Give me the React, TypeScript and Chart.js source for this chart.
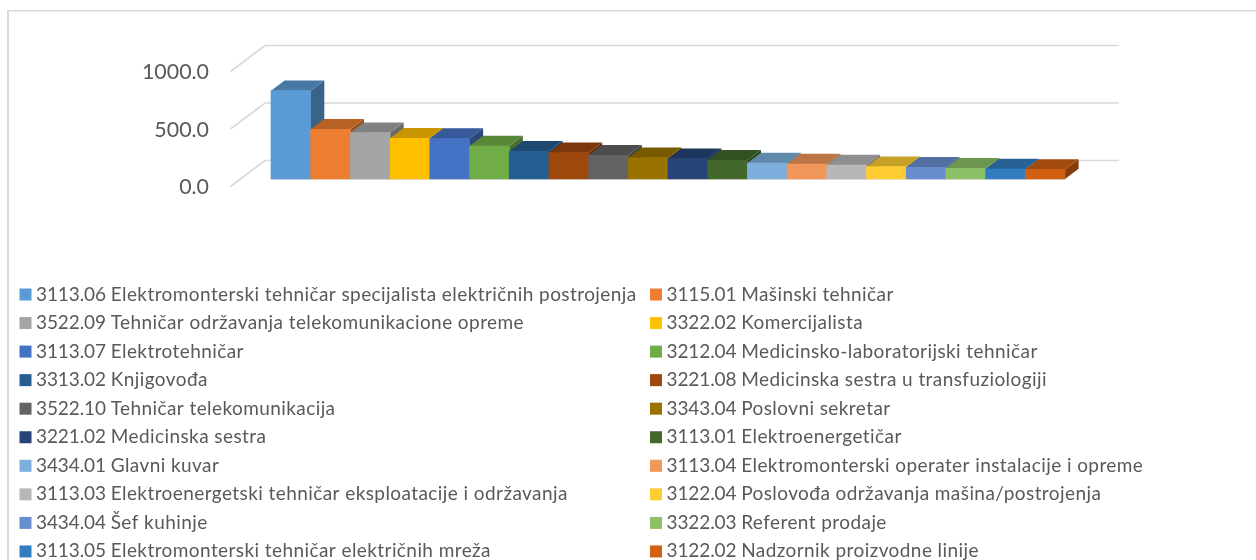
import { useEffect, useRef } from "react";
import { Chart, registerables } from "chart.js";

Chart.register(...registerables);

const occupations = [
  "3113.06 Elektromonterski tehničar specijalista električnih postrojenja",
  "3115.01 Mašinski tehničar",
  "3522.09 Tehničar održavanja telekomunikacione opreme",
  "3322.02 Komercijalista",
  "3113.07 Elektrotehničar",
  "3212.04 Medicinsko-laboratorijski tehničar",
  "3313.02 Knjigovođa",
  "3221.08 Medicinska sestra u transfuziologiji",
  "3522.10 Tehničar telekomunikacija",
  "3343.04 Poslovni sekretar",
  "3221.02 Medicinska sestra",
  "3113.01 Elektroenergetičar",
  "3434.01 Glavni kuvar",
  "3113.04 Elektromonterski operater instalacije i opreme",
  "3113.03 Elektroenergetski tehničar eksploatacije i održavanja",
  "3122.04 Poslovođa održavanja mašina/postrojenja",
  "3434.04 Šef kuhinje",
  "3322.03 Referent prodaje",
  "3113.05 Elektromonterski tehničar električnih mreža",
  "3122.02 Nadzornik proizvodne linije",
];
const values = [768, 432, 403, 354, 352, 287, 241, 229, 206, 185, 177, 163, 139, 130, 122, 107, 102, 93, 87, 84];
const colors = [
  "#5B9BD5", "#ED7D31", "#A5A5A5", "#FFC000", "#4472C4", "#70AD47", "#255E91", "#9E480E", "#636363", "#997300",
  "#264478", "#43682B", "#7CAFDD", "#F1975A", "#B7B7B7", "#FFCD33", "#698ED0", "#8CC168", "#327DC2", "#D26012",
];
const yTicks = { min: 0, max: 1000, step: 500 };

const FONT = "Lato";
const DEPTH_X = 13.6;
const DEPTH_Y = 10.2;

function shade(hex: string, f: number) {
  const n = parseInt(hex.slice(1), 16);
  const r = Math.round(((n >> 16) & 255) * f);
  const g = Math.round(((n >> 8) & 255) * f);
  const b = Math.round((n & 255) * f);
  return `rgb(${r},${g},${b})`;
}

const wall3d = {
  id: "wall3d",
  beforeDatasetsDraw(chart: any) {
    const { ctx, scales, chartArea } = chart;
    ctx.save();
    ctx.strokeStyle = "#D9D9D9";
    ctx.lineWidth = 1.6;
    for (const t of scales.y.ticks) {
      const p = scales.y.getPixelForValue(t.value);
      ctx.beginPath();
      ctx.moveTo(chartArea.left - 40.5, p + 7.5);
      ctx.lineTo(chartArea.left - 6, p - 18.5);
      ctx.lineTo(chartArea.right + 54, p - 18.5);
      ctx.stroke();
    }
    ctx.restore();
  },
  afterDatasetsDraw(chart: any) {
    const { ctx, chartArea } = chart;
    ctx.save();
    ctx.strokeStyle = "#E4E4E4";
    ctx.lineWidth = 1;
    ctx.beginPath();
    ctx.moveTo(chartArea.left, chartArea.bottom + 0.5);
    ctx.lineTo(chartArea.right, chartArea.bottom + 0.5);
    ctx.stroke();
    chart.data.datasets.forEach((ds: any, i: number) => {
      const el = chart.getDatasetMeta(i).data[0];
      const left = el.x - el.width / 2;
      const right = el.x + el.width / 2;
      const top = el.y;
      const base = el.base;
      ctx.fillStyle = shade(ds.backgroundColor, 0.64);
      ctx.beginPath();
      ctx.moveTo(right, top);
      ctx.lineTo(right + DEPTH_X, top - DEPTH_Y);
      ctx.lineTo(right + DEPTH_X, base - DEPTH_Y);
      ctx.lineTo(right, base);
      ctx.closePath();
      ctx.fill();
      ctx.fillStyle = shade(ds.backgroundColor, 0.78);
      ctx.beginPath();
      ctx.moveTo(left, top);
      ctx.lineTo(left + DEPTH_X, top - DEPTH_Y);
      ctx.lineTo(right + DEPTH_X, top - DEPTH_Y);
      ctx.lineTo(right, top);
      ctx.closePath();
      ctx.fill();
      el.draw(ctx);
    });
    ctx.restore();
  },
};

const twoColumnLegend = {
  id: "twoColumnLegend",
  afterDraw(chart: any) {
    const { ctx } = chart;
    ctx.save();
    ctx.textBaseline = "alphabetic";
    ctx.textAlign = "left";
    ctx.font = `19px ${FONT}`;
    chart.data.datasets.forEach((ds: any, i: number) => {
      const col = i % 2;
      const row = Math.floor(i / 2);
      const x = col === 0 ? 19.5 : 650;
      const y = 300.5 + row * 28.55;
      ctx.fillStyle = ds.backgroundColor;
      ctx.fillRect(x, y - 12, 12, 12);
      ctx.fillStyle = "#595959";
      const cut = ds.label.indexOf(" ") + 1;
      const code = ds.label.slice(0, cut);
      ctx.letterSpacing = "-0.1px";
      const codeWidth = ctx.measureText(code).width;
      ctx.fillText(code, x + 16.5, y);
      ctx.letterSpacing = "0.42px";
      ctx.fillText(ds.label.slice(cut), x + 16.5 + codeWidth, y);
    });
    ctx.restore();
  },
};

const frame = {
  id: "frame",
  beforeDraw(chart: any) {
    const { ctx, width, height } = chart;
    ctx.save();
    ctx.fillStyle = "#FFFFFF";
    ctx.fillRect(0, 0, width, height);
    ctx.fillStyle = "#D9D9D9";
    ctx.fillRect(7, 10, width - 7, 1.5);
    ctx.fillRect(7, 10, 2, height - 10);
    ctx.restore();
  },
};

export default function App() {
  const ref = useRef<HTMLCanvasElement>(null);
  useEffect(() => {
    const chart = new Chart(ref.current!, {
      type: "bar",
      data: {
        labels: [""],
        datasets: occupations.map((label, i) => ({
          label,
          data: [values[i]],
          backgroundColor: colors[i],
          borderWidth: 0,
          categoryPercentage: 1,
          barPercentage: 1,
        })),
      },
      options: {
        responsive: false,
        animation: false,
        layout: { padding: { top: 64, bottom: 381, left: 0, right: 191 } },
        plugins: { legend: { display: false }, tooltip: { enabled: false }, title: { display: false } },
        scales: {
          x: { display: false },
          y: {
            min: yTicks.min,
            max: yTicks.max,
            afterFit(scale: any) {
              scale.width = 271;
              scale.paddingTop = 0;
              scale.paddingBottom = 0;
            },
            grid: { display: false, drawTicks: false },
            border: { display: false },
            ticks: {
              stepSize: yTicks.step,
              padding: 62,
              labelOffset: 8.5,
              color: "#595959",
              font: { family: FONT, size: 21.4 },
              callback: (v: any) => Number(v).toFixed(1),
            },
          },
        },
      },
      plugins: [frame, wall3d, twoColumnLegend],
    });
    return () => chart.destroy();
  }, []);
  return (
    <div style={{ position: "fixed", left: 0, top: 0, width: 1256, height: 560, overflow: "hidden", background: "#fff" }}>
      <canvas ref={ref} width={1256} height={560} style={{ display: "block" }} />
    </div>
  );
}
